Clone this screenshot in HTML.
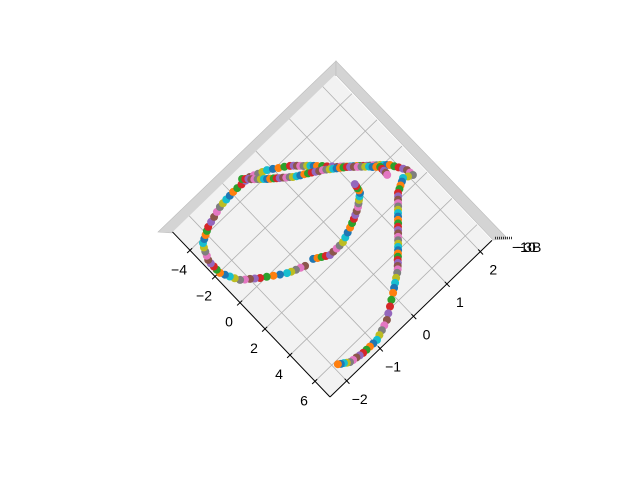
<!DOCTYPE html>
<html><head><meta charset="utf-8">
<style>
html,body{margin:0;padding:0;background:#fff;}
svg text{font-family:"Liberation Sans","DejaVu Sans",sans-serif;font-size:14px;fill:#000;}
</style></head>
<body>
<svg id="chart" width="640" height="480" viewBox="0 0 640 480" xmlns="http://www.w3.org/2000/svg">
  <rect width="640" height="480" fill="#fff"/>
  <polygon points="336,61 158,232 172,233 336,75" fill="#d4d4d4" stroke="#bdbdbd" stroke-width="0.6"/>
  <polygon points="336,61 508,239 493,240 336,75" fill="#d4d4d4" stroke="#bdbdbd" stroke-width="0.6"/>
  <g id="pane"></g>
  <g id="grid"></g>
  <g id="axes"></g>
  <g id="points"></g>
  <g>
    <line x1="495" y1="238" x2="512" y2="238" stroke="#333" stroke-width="2.5" stroke-dasharray="1,1"/>
    <text x="512" y="252">−10</text>
    <text x="516" y="252">−3B</text>
  </g>
</svg>
<script>
const xTicks = [-4, -2, 0, 2, 4, 6];
const yTicks = [-2, -1, 0, 1, 2];
const xLabels = ["−4", "−2", "0", "2", "4", "6"];
const yLabels = ["−2", "−1", "0", "1", "2"];
const xRange = [-5.4, 7.2];
const yRange = [-2.5, 2.35];
const xs = [
 1.07,1.20,1.32,1.44,1.56,1.56,1.56,1.56,1.55,1.45,1.35,1.25,1.14,1.04,0.94,0.84,0.73,0.61,0.49,0.37,0.25,0.11,-0.03,-0.17,-0.30,
 1.04,0.94,0.84,0.74,0.63,0.42,0.21,0.0,-0.21,-0.39,-0.56,-0.73,-0.90,-1.17,-1.43,-1.69,-1.95,-2.20,-2.44,-2.68,-2.92,-3.14,-3.36,-3.58,-3.79,-3.90,-4.01,-4.12,-4.23,-4.32,-4.40,-4.49,-4.57,-4.60,-4.62,-4.64,-4.66,-4.65,-4.64,-4.63,-4.61,-4.52,-4.42,-4.33,-4.23,-4.05,-3.87,-3.69,-3.51,
 -3.38,-3.25,-3.12,-2.99,-2.86,-2.73,-2.60,-2.47,-2.27,-2.07,-1.87,-1.66,-1.54,-1.42,-1.30,-1.18,-1.06,-0.94,-0.82,-0.70,-0.57,-0.45,-0.33,-0.21,-0.09,0.04,0.17,0.29,0.51,0.72,0.94,1.15,1.36,1.57,1.44,1.31,1.41,1.51,1.61,
 1.71,1.85,1.98,2.12,2.25,2.38,2.51,2.65,2.78,2.92,3.05,3.19,3.32,3.46,3.59,3.73,3.86,3.99,4.11,4.24,4.36,4.48,4.60,4.73,4.85,5.01,5.17,5.33,5.49,5.70,5.91,6.12,6.33,6.44,6.54,6.64,6.74,6.74,6.73,6.73,6.72,6.69,6.65,6.62,6.58,6.49,6.39,6.30,6.20,
 -4.83,-4.71,-4.59,-4.47,-4.35,-4.23,-4.11,-3.99,-3.87,-3.76,-3.64,-3.53,-3.42,-3.31,-3.19,-3.08,-2.96,-2.85,-2.74,-2.63,-2.52,-2.41,-2.30,-2.19,-2.08,-1.97,-1.85,-1.74,-1.62,-1.51,-1.39,-1.28,-1.16,-1.02,-0.87,-0.73,-0.59,-0.45,-0.30,-0.16,-0.01,0.14,0.29,0.44,0.58
];
const ys = [
 -0.71,-0.63,-0.55,-0.47,-0.39,-0.29,-0.19,-0.10,0.00,0.11,0.22,0.33,0.43,0.52,0.60,0.68,0.76,0.82,0.88,0.94,1.00,1.02,1.03,1.04,1.05,
 -0.94,-1.04,-1.14,-1.24,-1.33,-1.46,-1.58,-1.70,-1.82,-1.91,-1.99,-2.08,-2.16,-2.22,-2.27,-2.32,-2.37,-2.37,-2.37,-2.37,-2.36,-2.32,-2.28,-2.24,-2.19,-2.11,-2.03,-1.95,-1.87,-1.75,-1.63,-1.51,-1.39,-1.29,-1.18,-1.07,-0.96,-0.84,-0.72,-0.60,-0.48,-0.39,-0.30,-0.21,-0.11,0.00,0.10,0.21,0.31,
 0.37,0.42,0.47,0.52,0.58,0.63,0.68,0.73,0.81,0.88,0.96,1.03,1.09,1.14,1.19,1.24,1.30,1.35,1.40,1.45,1.51,1.56,1.62,1.67,1.73,1.78,1.83,1.88,1.93,1.98,2.03,2.07,2.08,2.09,1.99,1.89,1.82,1.74,1.67,
 1.59,1.54,1.49,1.44,1.39,1.34,1.29,1.24,1.19,1.14,1.09,1.04,0.99,0.94,0.89,0.84,0.79,0.74,0.69,0.64,0.59,0.55,0.50,0.45,0.39,0.30,0.21,0.12,0.03,-0.10,-0.22,-0.35,-0.47,-0.59,-0.70,-0.81,-0.92,-1.03,-1.13,-1.23,-1.33,-1.42,-1.50,-1.59,-1.67,-1.73,-1.78,-1.84,-1.89,
 -0.63,-0.58,-0.53,-0.49,-0.44,-0.39,-0.34,-0.29,-0.24,-0.19,-0.13,-0.08,-0.03,0.03,0.08,0.14,0.19,0.26,0.33,0.41,0.48,0.55,0.62,0.69,0.76,0.82,0.88,0.94,1.00,1.06,1.12,1.18,1.23,1.29,1.35,1.41,1.47,1.53,1.58,1.64,1.70,1.70,1.70,1.70,1.69
];
const colors = ["#1f77b4","#ff7f0e","#2ca02c","#d62728","#9467bd","#8c564b","#e377c2","#7f7f7f","#bcbd22","#17becf"];
const NS = "http://www.w3.org/2000/svg";
const ORIGIN = [330, 397];
const U = [12.5, 13.1], V = [33.4, -32.3];
function proj(x, y) {
  const a = x - xRange[1], b = y - yRange[0];
  return [ORIGIN[0] + a * U[0] + b * V[0], ORIGIN[1] + a * U[1] + b * V[1]];
}
function mk(tag, attrs, parent) {
  const e = document.createElementNS(NS, tag);
  for (const k in attrs) e.setAttribute(k, attrs[k]);
  parent.appendChild(e);
  return e;
}
const pane = document.getElementById('pane');
const c = [proj(xRange[0], yRange[0]), proj(xRange[1], yRange[0]), proj(xRange[1], yRange[1]), proj(xRange[0], yRange[1])];
const poly = mk('polygon', {points: c.map(p => p.join(',')).join(' '), fill: '#f2f2f2', stroke: 'none'}, pane);



const grid = document.getElementById('grid');
xTicks.forEach(t => {
  const p1 = proj(t, yRange[0]), p2 = proj(t, yRange[1]);
  const l = mk('line', {x1: p1[0], y1: p1[1], x2: p2[0], y2: p2[1], stroke: '#b0b0b0', 'stroke-width': 0.8}, grid);
  
  
});
yTicks.forEach(t => {
  const p1 = proj(xRange[0], t), p2 = proj(xRange[1], t);
  const l = mk('line', {x1: p1[0], y1: p1[1], x2: p2[0], y2: p2[1], stroke: '#b0b0b0', 'stroke-width': 0.8}, grid);
  
  
});

const axes = document.getElementById('axes');
const xa = mk('line', {x1: c[0][0], y1: c[0][1], x2: c[1][0], y2: c[1][1], stroke: '#000', 'stroke-width': 1}, axes);


const ya = mk('line', {x1: c[1][0], y1: c[1][1], x2: c[2][0], y2: c[2][1], stroke: '#000', 'stroke-width': 1}, axes);



xTicks.forEach((t, i) => {
  const p = proj(t, yRange[0]);
  const d = [-0.72, 0.69];
  const l = mk('line', {x1: p[0] - d[0]*3, y1: p[1] - d[1]*3, x2: p[0] + d[0]*4, y2: p[1] + d[1]*4, stroke: '#000', 'stroke-width': 1}, axes);
  
  
  const tx = mk('text', {x: p[0] - 11, y: p[1] + 24, 'text-anchor': 'middle'}, axes);
  tx.textContent = xLabels[i];
  
  
});
yTicks.forEach((t, i) => {
  const p = proj(xRange[1], t);
  const d = [0.69, 0.72];
  const l = mk('line', {x1: p[0] - d[0]*3, y1: p[1] - d[1]*3, x2: p[0] + d[0]*4, y2: p[1] + d[1]*4, stroke: '#000', 'stroke-width': 1}, axes);
  
  
  const tx = mk('text', {x: p[0] + 13, y: p[1] + 23, 'text-anchor': 'middle'}, axes);
  tx.textContent = yLabels[i];
  
  
});

const pts = document.getElementById('points');
xs.forEach((x, i) => {
  const p = proj(x, ys[i]);
  const ci = mk('circle', {cx: p[0].toFixed(1), cy: p[1].toFixed(1), r: 4, fill: colors[i % 10]}, pts);
  
  
});
</script>
</body></html>
